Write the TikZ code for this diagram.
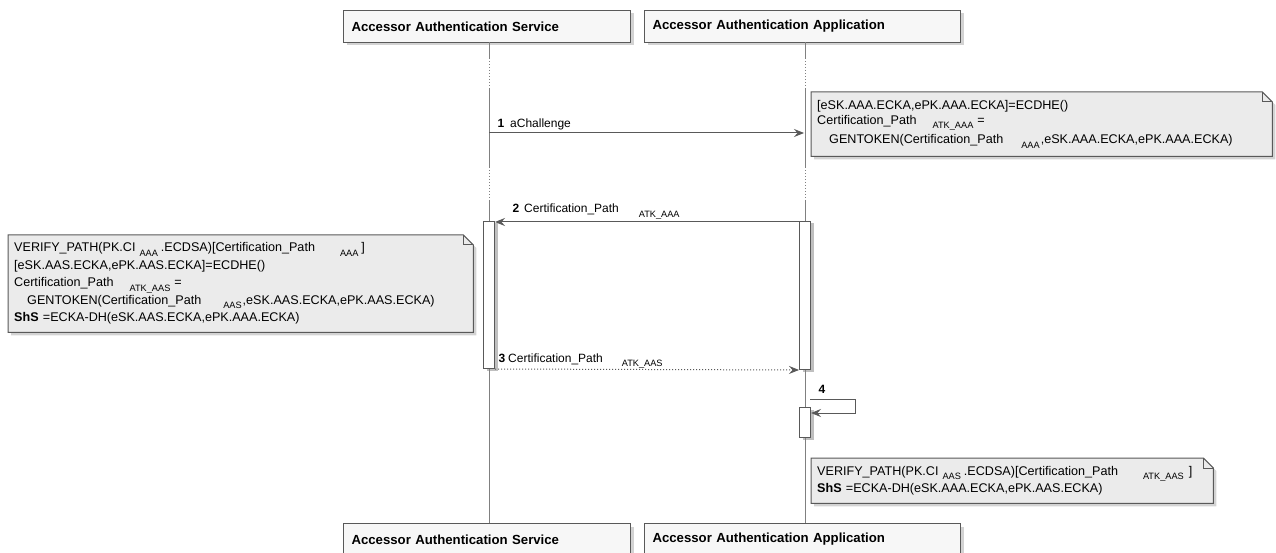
\documentclass[tikz,border=0pt]{standalone}
\usepackage{fontspec}
\setmainfont{Liberation Sans}
\usetikzlibrary{shapes,arrows.meta,shadows,backgrounds}

\definecolor{linegray}{gray}{0.35}
\definecolor{lifegray}{gray}{0.5}
\definecolor{headfill}{gray}{0.97}
\definecolor{notefill}{gray}{0.92}

% lowered small text for the subscripts
\newcommand{\lowtxt}[1]{\raisebox{-4.5pt}{\fontsize{9.2}{10}\selectfont #1}}
% folded note outline drawn behind a node
\newcommand{\notefold}[1]{%
  \begin{scope}[on background layer]
    \filldraw[draw=linegray, line width=1pt, fill=notefill, drop shadow={shadow xshift=3pt, shadow yshift=-3pt, opacity=.35}]
      (#1.south west) -- (#1.north west) -- ([xshift=-10pt]#1.north east)
      -- ([yshift=-10pt]#1.north east) -- (#1.south east) -- cycle;
    \draw[draw=linegray, line width=1pt] ([xshift=-10pt]#1.north east) |- ([yshift=-10pt]#1.north east);
  \end{scope}}

\begin{document}
\begin{tikzpicture}[x=1pt, y=-1pt, auto]
    \tikzstyle{head} = [rectangle, draw=linegray, line width=1pt, fill=headfill, anchor=north west, minimum height=32pt, inner xsep=8pt, align=left, font=\bfseries\fontsize{13.2}{15}\selectfont, drop shadow={shadow xshift=3pt, shadow yshift=-3pt, opacity=.35}]
    \tikzstyle{act} = [rectangle, draw=linegray, line width=1pt, fill=white, anchor=north west, minimum width=11pt, inner sep=0pt, drop shadow={shadow xshift=3pt, shadow yshift=-2pt, opacity=.5}]
    \tikzstyle{note} = [rectangle, anchor=north west, inner xsep=6pt, align=left]
    \tikzstyle{life} = [draw=lifegray, line width=1pt]
    \tikzstyle{line} = [draw=linegray, line width=1pt, -{Stealth[length=10pt, width=8pt, inset=3.5pt]}]
    \tikzstyle{lbl} = [anchor=base west, inner sep=0pt, font=\fontsize{12}{14}\selectfont]

    \useasboundingbox (0,0) rectangle (1276,553);

    % participants
    \node [head, text width=271pt] (srvtop) at (343,10) {Accessor Authentication Service};
    \node [head, text width=300pt] (apptop) at (644,10) {Accessor Authentication Application};
    \node [head, text width=271pt] (srvbot) at (343,523) {Accessor Authentication Service};
    \node [head, text width=300pt] (appbot) at (644,523) {Accessor Authentication Application};

    % lifelines
    \foreach \x in {489, 805} {
        \draw [life] (\x,42) -- (\x,58);
        \draw [life, dotted] (\x,58) -- (\x,88);
        \draw [life] (\x,88) -- (\x,167);
        \draw [life, dotted] (\x,167) -- (\x,200);
        \draw [life] (\x,200) -- (\x,523);
    }

    % activations
    \node [act, minimum height=147pt] (srvact) at (483,221) {};
    \node [act, minimum height=148pt] (appact) at (799,221) {};
    \node [act, minimum height=30pt] (appself) at (799,407) {};

    % notes
    \node [note, font=\fontsize{12.6}{15}\selectfont, text width=449pt, minimum height=64pt] (note1) at (811,92) {%
        {[}eSK.AAA.ECKA,ePK.AAA.ECKA{]}=ECDHE()\\
        Certification\_Path\hspace{16pt}\lowtxt{ATK\_AAA}\hspace{4pt}=\\[3pt]
        \hspace{12pt}GENTOKEN(Certification\_Path\hspace{18pt}\lowtxt{AAA}\hspace{1pt},eSK.AAA.ECKA,ePK.AAA.ECKA)};
    \notefold{note1}

    \node [note, font=\fontsize{12.6}{17.5}\selectfont, text width=453pt, minimum height=97pt] (note2) at (8,235) {%
        VERIFY\_PATH(PK.CI\hspace{4pt}\lowtxt{AAA}\hspace{3pt}.ECDSA){[}Certification\_Path\hspace{25pt}\lowtxt{AAA}\hspace{3pt}{]}\\
        {[}eSK.AAS.ECKA,ePK.AAS.ECKA{]}=ECDHE()\\
        Certification\_Path\hspace{16pt}\lowtxt{ATK\_AAS}\hspace{4pt}=\\
        \hspace{13pt}GENTOKEN(Certification\_Path\hspace{22pt}\lowtxt{AAS}\hspace{1pt},eSK.AAS.ECKA,ePK.AAS.ECKA)\\
        \textbf{ShS} =ECKA-DH(eSK.AAS.ECKA,ePK.AAA.ECKA)};
    \notefold{note2}

    \node [note, font=\fontsize{12.6}{17.5}\selectfont, text width=390pt, minimum height=45pt] (note3) at (811,458) {%
        VERIFY\_PATH(PK.CI\hspace{4pt}\lowtxt{AAS}\hspace{3pt}.ECDSA){[}Certification\_Path\hspace{25pt}\lowtxt{ATK\_AAS}\hspace{5pt}{]}\\
        \textbf{ShS} =ECKA-DH(eSK.AAA.ECKA,ePK.AAS.ECKA)};
    \notefold{note3}

    % messages
    \coordinate (srv1) at (489,133);
    \coordinate (app1) at (804,133);
    \coordinate (self4) at (810,399);

    \path [line] (srv1) -- node [lbl, pos=0, xshift=8pt, yshift=5pt] {\textbf{1}\hspace{6pt}aChallenge} (app1);
    \path [line] ([yshift=-1pt]appact.north west) -- node [lbl, pos=1, xshift=17pt, yshift=9pt] {\textbf{2}\hspace{5pt}Certification\_Path\hspace{20pt}\lowtxt{ATK\_AAA}} ([yshift=-1pt]srvact.north east);
    \path [line, dotted] (srvact.south east) -- node [lbl, pos=0, xshift=3pt, yshift=7pt] {\textbf{3}\hspace{3pt}Certification\_Path\hspace{19pt}\lowtxt{ATK\_AAS}} (appact.south west);
    \path [line] (self4) -- node [lbl, pos=0, xshift=8pt, yshift=6pt] {\textbf{4}} ++(45,0) |- ([yshift=-6pt]appself.north east);
\end{tikzpicture}
\end{document}
